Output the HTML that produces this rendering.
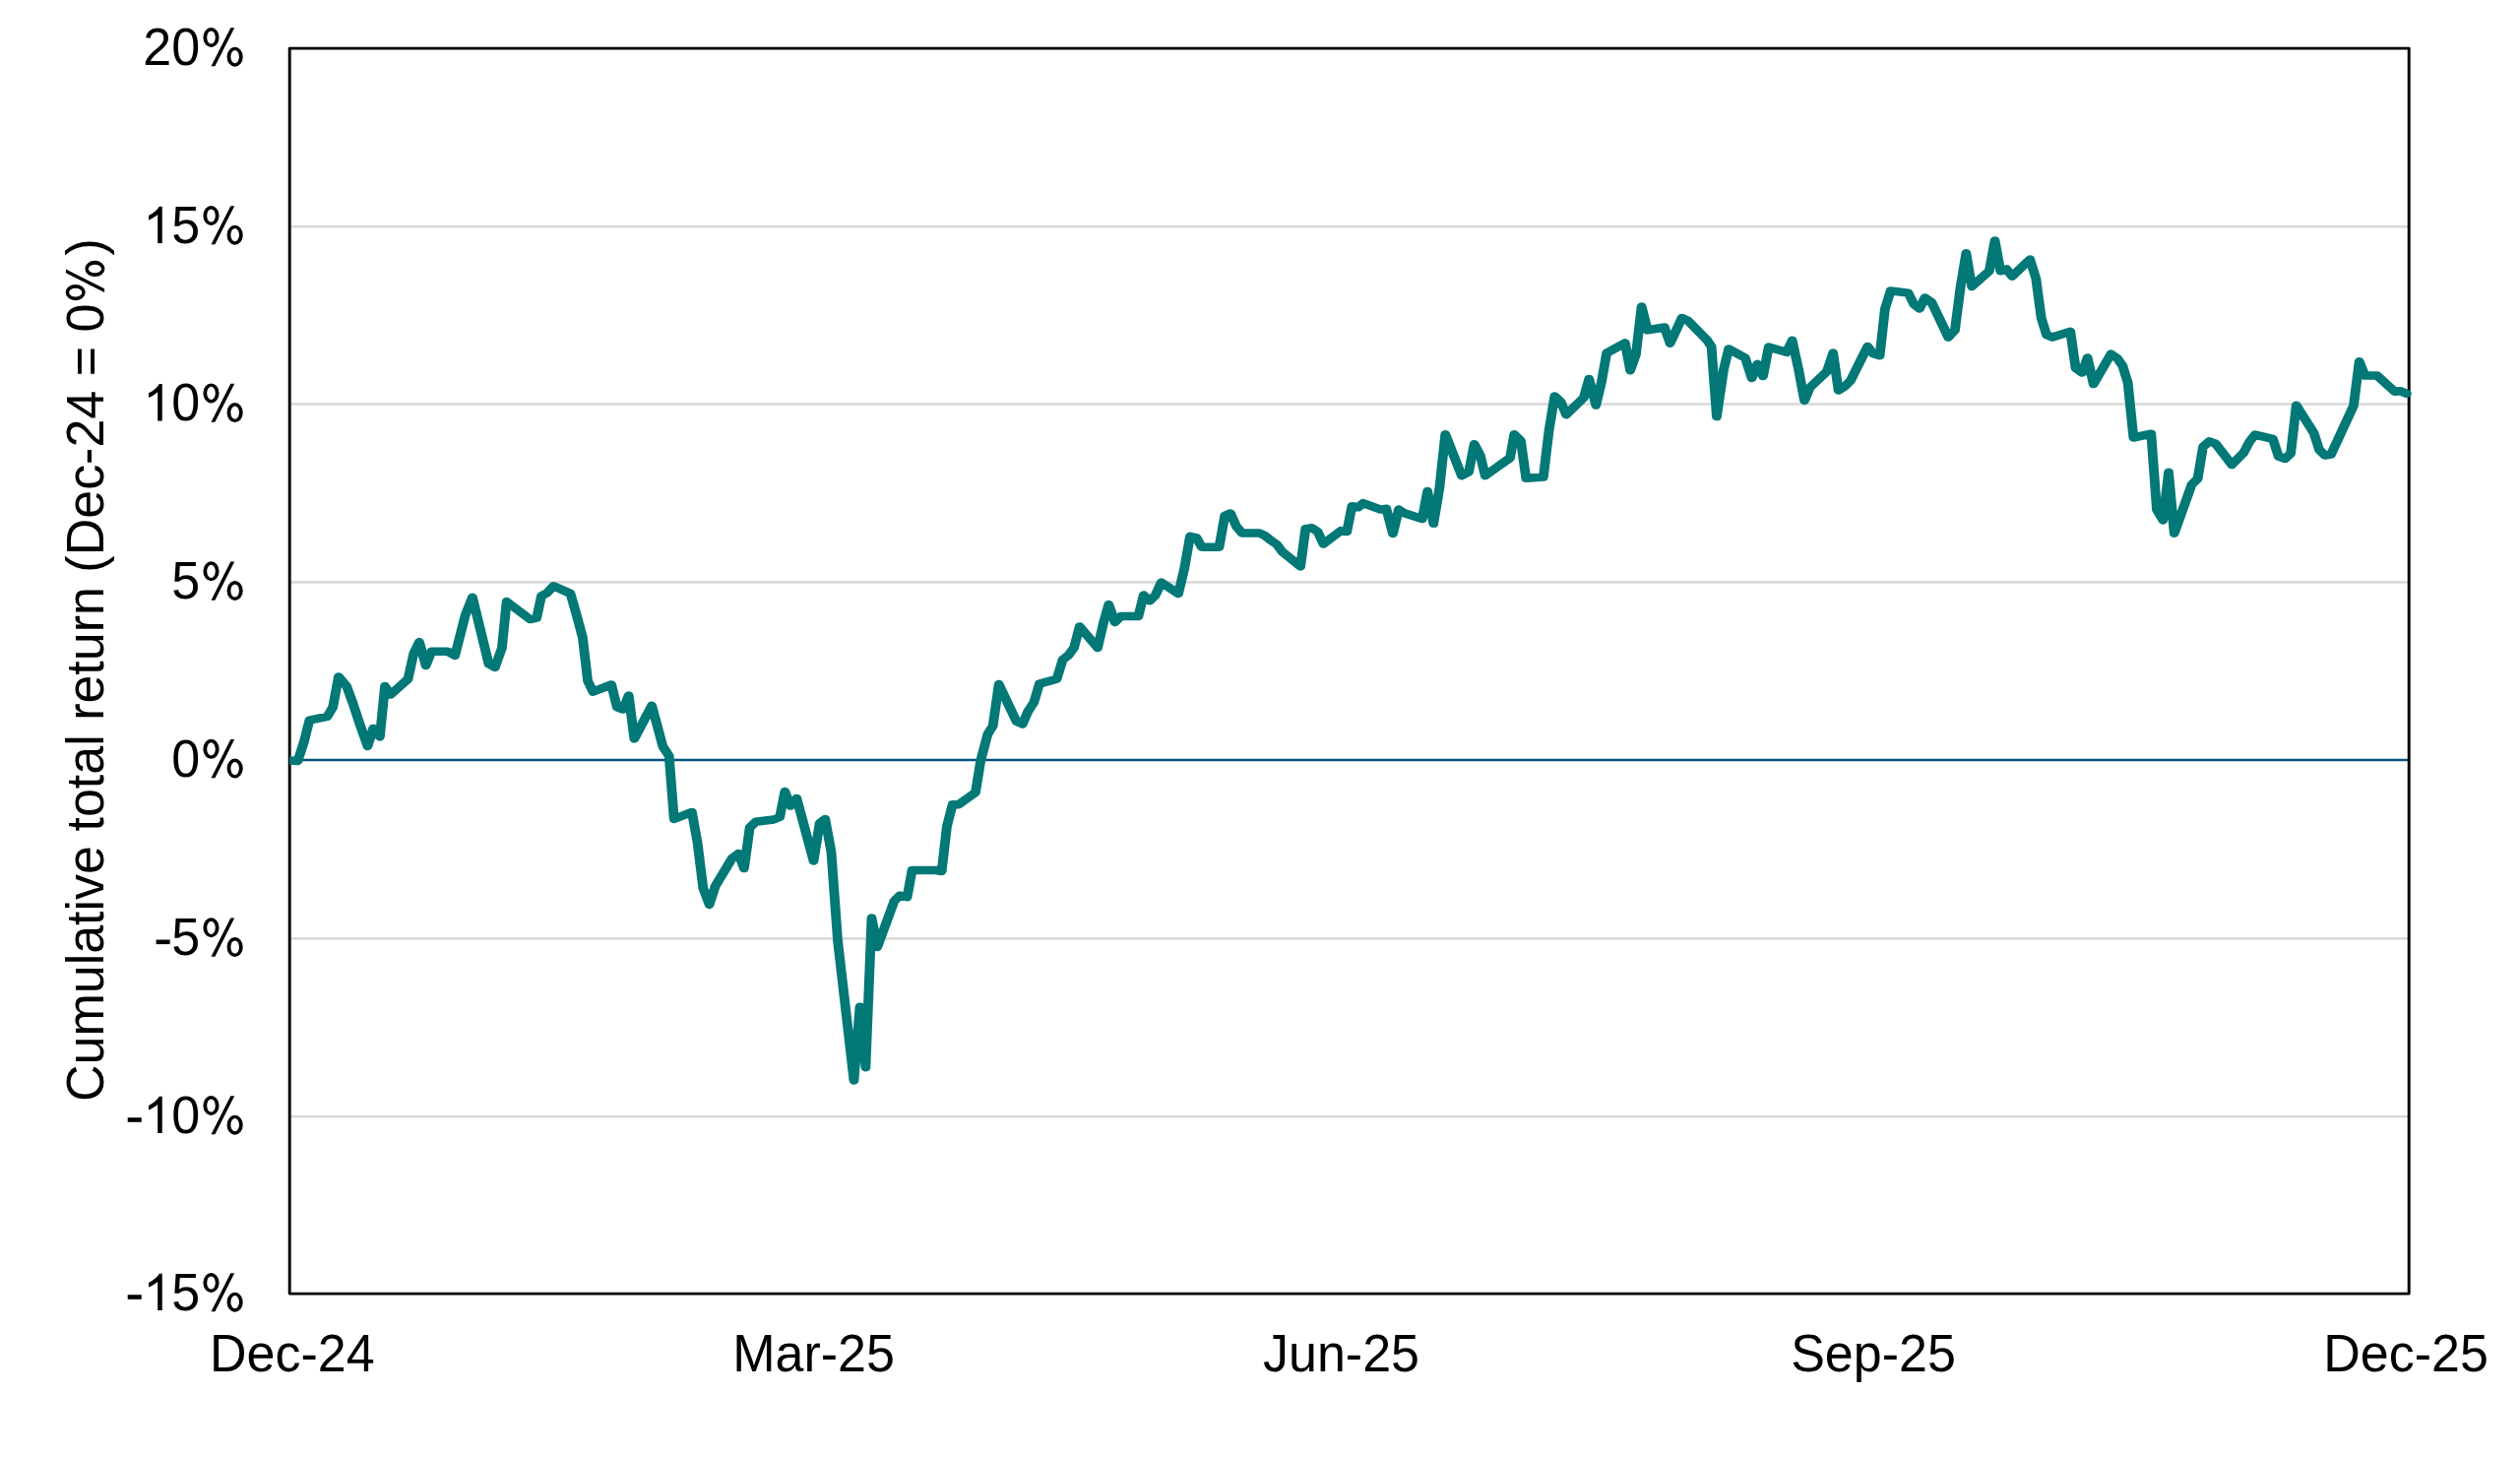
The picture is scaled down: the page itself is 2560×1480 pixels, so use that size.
<!DOCTYPE html>
<html><head><meta charset="utf-8"><title>chart</title><style>html,body{margin:0;padding:0;background:#fff}svg{display:block}text{font-family:"Liberation Sans",sans-serif;fill:#000}</style></head><body>
<svg width="2560" height="1480" viewBox="0 0 2560 1480">
<rect width="2560" height="1480" fill="#fff"/>
<line x1="294.2" x2="2447.2" y1="230.10" y2="230.10" stroke="#d9d9d9" stroke-width="2.6"/>
<line x1="294.2" x2="2447.2" y1="410.50" y2="410.50" stroke="#d9d9d9" stroke-width="2.6"/>
<line x1="294.2" x2="2447.2" y1="591.40" y2="591.40" stroke="#d9d9d9" stroke-width="2.6"/>
<line x1="294.2" x2="2447.2" y1="953.40" y2="953.40" stroke="#d9d9d9" stroke-width="2.6"/>
<line x1="294.2" x2="2447.2" y1="1134.10" y2="1134.10" stroke="#d9d9d9" stroke-width="2.6"/>
<line x1="294.2" x2="2447.2" y1="771.95" y2="771.95" stroke="#07547c" stroke-width="2.5"/>
<defs><clipPath id="cp"><rect x="293.9" y="0" width="2300" height="1480"/></clipPath></defs>
<g transform="scale(1.155,1)"><rect x="254.72" y="49.1" width="1864.07" height="1265.0" fill="none" stroke="#000" stroke-width="2.55" stroke-linejoin="round"/></g>
<g clip-path="url(#cp)"><g transform="scale(1.155,1)"><polyline fill="none" stroke="#027877" stroke-width="8.5" stroke-linejoin="round" stroke-linecap="round" points="249.03,772.3 261.91,772.9 267.37,753.6 272.16,731.7 287.85,727.9 292.80,718.3 297.76,687.4 304.86,697.0 310.15,713.6 316.75,736.5 323.36,758.0 328.32,739.9 334.10,748.5 338.56,697.0 343.51,705.6 358.87,689.7 363.83,664.0 368.78,652.1 374.56,676.0 379.52,661.7 393.56,661.7 400.17,665.9 409.25,624.9 415.53,606.7 429.90,674.5 435.35,677.9 441.46,658.3 445.59,611.1 466.24,629.1 472.02,627.7 476.15,605.4 481.10,602.4 486.88,595.3 501.75,602.9 506.71,623.0 512.49,647.8 516.95,691.6 521.57,702.7 537.76,695.5 542.71,718.3 548.00,720.6 552.95,706.5 557.91,750.4 573.27,716.8 578.56,739.3 583.02,758.4 588.47,767.9 592.87,832.0 608.57,824.9 613.52,856.4 618.48,902.2 623.93,918.9 629.21,899.9 644.08,871.6 649.53,866.9 654.48,882.1 659.44,840.7 664.73,834.8 680.42,832.5 685.87,830.0 690.33,803.9 695.28,818.6 700.73,811.0 715.60,874.5 720.89,836.3 725.84,832.1 731.13,865.5 736.83,955.5 751.04,1097.4 756.29,1022.7 761.40,1084.2 766.66,932.5 771.63,962.0 786.54,915.3 791.51,909.5 797.91,911.2 802.17,884.1 823.29,884.0 828.25,885.0 832.87,839.2 837.83,817.3 843.11,817.3 857.98,804.9 862.52,772.8 868.64,746.1 873.26,737.5 878.55,695.0 893.91,732.7 899.36,735.6 904.31,722.3 909.27,713.7 914.22,694.6 929.42,689.8 934.71,670.2 939.66,665.6 944.62,658.0 949.57,636.4 965.43,658.0 970.38,633.5 975.17,614.1 980.63,632.0 985.91,625.9 1001.27,625.9 1005.90,604.5 1011.18,610.3 1016.14,604.9 1021.42,591.6 1036.45,603.0 1041.74,577.3 1046.70,544.8 1052.48,546.4 1056.94,555.7 1072.30,555.7 1077.25,523.8 1082.21,521.4 1087.49,534.7 1092.45,541.6 1107.81,541.6 1112.77,544.3 1118.05,549.2 1123.01,553.0 1127.96,560.7 1143.82,575.4 1148.28,537.2 1153.73,536.2 1159.01,540.1 1163.97,552.5 1179.33,539.1 1184.62,540.1 1189.08,514.3 1194.53,515.3 1198.99,511.1 1214.35,517.6 1219.30,516.8 1225.09,542.0 1230.26,517.5 1235.22,521.3 1250.91,527.1 1255.53,499.0 1260.82,531.8 1266.11,495.6 1271.23,441.2 1285.60,483.2 1291.87,479.4 1296.66,451.1 1302.11,463.1 1306.24,483.2 1323.59,468.9 1328.21,465.1 1331.85,441.2 1337.63,447.9 1342.25,485.7 1357.45,484.5 1362.40,437.4 1367.36,402.5 1372.81,408.2 1377.60,421.2 1392.96,404.0 1397.59,384.9 1403.70,411.6 1408.65,387.8 1413.11,358.6 1429.30,348.3 1433.92,376.3 1438.88,360.1 1443.84,311.5 1449.12,335.3 1463.99,332.5 1468.94,348.7 1474.23,335.7 1479.35,322.9 1484.63,325.8 1501.65,345.8 1505.28,352.1 1509.91,423.1 1516.02,375.4 1520.48,354.4 1535.01,363.6 1540.79,384.0 1545.75,369.7 1550.70,382.1 1555.66,352.5 1571.35,357.8 1576.31,345.8 1582.09,376.3 1587.04,406.9 1592.00,393.5 1606.86,377.3 1612.31,358.6 1617.00,396.5 1622.78,392.3 1627.73,386.5 1642.60,352.0 1647.55,359.3 1653.34,361.2 1657.96,313.5 1662.92,295.4 1678.44,297.6 1683.40,309.1 1688.35,313.5 1692.98,302.4 1699.09,307.4 1713.62,342.5 1719.41,335.4 1724.36,291.5 1729.32,257.2 1734.27,291.0 1749.63,275.3 1754.59,244.4 1759.54,275.3 1764.83,273.4 1769.78,280.7 1785.48,263.5 1790.76,283.0 1795.39,323.0 1800.01,340.2 1805.30,342.5 1820.99,336.8 1825.64,373.9 1831.42,378.6 1836.05,363.4 1841.33,390.1 1856.70,359.6 1862.31,364.0 1866.94,371.6 1871.56,388.8 1876.52,444.5 1892.04,440.7 1897.00,517.9 1902.45,528.4 1907.40,479.8 1912.36,541.8 1927.72,492.2 1933.01,486.1 1937.63,454.0 1943.25,448.3 1948.70,450.6 1963.07,472.1 1973.47,459.7 1978.43,448.9 1983.38,441.6 1999.08,445.8 2004.03,463.5 2009.81,466.0 2014.77,460.7 2019.72,411.7 2035.08,439.7 2039.87,456.9 2045.00,462.6 2050.28,461.6 2070.10,412.0 2075.06,367.2 2080.01,381.5 2090.75,381.5 2106.11,397.7 2111.07,397.2 2116.76,399.8"/></g></g>
<text transform="translate(203.20,66.00) scale(1,1.030)" font-size="52.00" text-anchor="end">20</text>
<path fill-rule="evenodd" d="M230.55,57.70 a8.1,10 0 1,0 16.2,0 a8.1,10 0 1,0 -16.2,0 Z M234.35,57.70 a4.3,6.6 0 1,1 8.6,0 a4.3,6.6 0 1,1 -8.6,0 Z M206.40,38.00 a8.1,10 0 1,0 16.2,0 a8.1,10 0 1,0 -16.2,0 Z M210.20,38.00 a4.3,6.6 0 1,1 8.6,0 a4.3,6.6 0 1,1 -8.6,0 Z M234.30,28.25 L238.20,28.25 L218.40,67.37 L214.50,67.37 Z"/>
<text transform="translate(203.20,247.00) scale(1,1.030)" font-size="52.00" text-anchor="end">5</text>
<path transform="translate(145.38,247.00) scale(0.02539,-0.02539)" d="M763,0 L583,0 L583,1147 Q518,1085 412.5,1023 Q307,961 223,930 L223,1104 Q374,1175 487,1276 Q600,1377 647,1472 L763,1472 Z"/>
<path fill-rule="evenodd" d="M230.55,238.70 a8.1,10 0 1,0 16.2,0 a8.1,10 0 1,0 -16.2,0 Z M234.35,238.70 a4.3,6.6 0 1,1 8.6,0 a4.3,6.6 0 1,1 -8.6,0 Z M206.40,219.00 a8.1,10 0 1,0 16.2,0 a8.1,10 0 1,0 -16.2,0 Z M210.20,219.00 a4.3,6.6 0 1,1 8.6,0 a4.3,6.6 0 1,1 -8.6,0 Z M234.30,209.25 L238.20,209.25 L218.40,248.37 L214.50,248.37 Z"/>
<text transform="translate(203.20,427.40) scale(1,1.030)" font-size="52.00" text-anchor="end">0</text>
<path transform="translate(145.38,427.40) scale(0.02539,-0.02539)" d="M763,0 L583,0 L583,1147 Q518,1085 412.5,1023 Q307,961 223,930 L223,1104 Q374,1175 487,1276 Q600,1377 647,1472 L763,1472 Z"/>
<path fill-rule="evenodd" d="M230.55,419.10 a8.1,10 0 1,0 16.2,0 a8.1,10 0 1,0 -16.2,0 Z M234.35,419.10 a4.3,6.6 0 1,1 8.6,0 a4.3,6.6 0 1,1 -8.6,0 Z M206.40,399.40 a8.1,10 0 1,0 16.2,0 a8.1,10 0 1,0 -16.2,0 Z M210.20,399.40 a4.3,6.6 0 1,1 8.6,0 a4.3,6.6 0 1,1 -8.6,0 Z M234.30,389.65 L238.20,389.65 L218.40,428.77 L214.50,428.77 Z"/>
<text transform="translate(203.20,608.30) scale(1,1.030)" font-size="52.00" text-anchor="end">5</text>
<path fill-rule="evenodd" d="M230.55,600.00 a8.1,10 0 1,0 16.2,0 a8.1,10 0 1,0 -16.2,0 Z M234.35,600.00 a4.3,6.6 0 1,1 8.6,0 a4.3,6.6 0 1,1 -8.6,0 Z M206.40,580.30 a8.1,10 0 1,0 16.2,0 a8.1,10 0 1,0 -16.2,0 Z M210.20,580.30 a4.3,6.6 0 1,1 8.6,0 a4.3,6.6 0 1,1 -8.6,0 Z M234.30,570.55 L238.20,570.55 L218.40,609.67 L214.50,609.67 Z"/>
<text transform="translate(203.20,788.85) scale(1,1.030)" font-size="52.00" text-anchor="end">0</text>
<path fill-rule="evenodd" d="M230.55,780.55 a8.1,10 0 1,0 16.2,0 a8.1,10 0 1,0 -16.2,0 Z M234.35,780.55 a4.3,6.6 0 1,1 8.6,0 a4.3,6.6 0 1,1 -8.6,0 Z M206.40,760.85 a8.1,10 0 1,0 16.2,0 a8.1,10 0 1,0 -16.2,0 Z M210.20,760.85 a4.3,6.6 0 1,1 8.6,0 a4.3,6.6 0 1,1 -8.6,0 Z M234.30,751.10 L238.20,751.10 L218.40,790.22 L214.50,790.22 Z"/>
<text transform="translate(203.20,970.30) scale(1,1.030)" font-size="52.00" text-anchor="end">5</text>
<rect x="158.62" y="954.55" width="14.04" height="4.55"/>
<path fill-rule="evenodd" d="M230.55,962.00 a8.1,10 0 1,0 16.2,0 a8.1,10 0 1,0 -16.2,0 Z M234.35,962.00 a4.3,6.6 0 1,1 8.6,0 a4.3,6.6 0 1,1 -8.6,0 Z M206.40,942.30 a8.1,10 0 1,0 16.2,0 a8.1,10 0 1,0 -16.2,0 Z M210.20,942.30 a4.3,6.6 0 1,1 8.6,0 a4.3,6.6 0 1,1 -8.6,0 Z M234.30,932.55 L238.20,932.55 L218.40,971.67 L214.50,971.67 Z"/>
<text transform="translate(203.20,1151.00) scale(1,1.030)" font-size="52.00" text-anchor="end">0</text>
<path transform="translate(145.38,1151.00) scale(0.02539,-0.02539)" d="M763,0 L583,0 L583,1147 Q518,1085 412.5,1023 Q307,961 223,930 L223,1104 Q374,1175 487,1276 Q600,1377 647,1472 L763,1472 Z"/>
<rect x="129.71" y="1135.25" width="14.04" height="4.55"/>
<path fill-rule="evenodd" d="M230.55,1142.70 a8.1,10 0 1,0 16.2,0 a8.1,10 0 1,0 -16.2,0 Z M234.35,1142.70 a4.3,6.6 0 1,1 8.6,0 a4.3,6.6 0 1,1 -8.6,0 Z M206.40,1123.00 a8.1,10 0 1,0 16.2,0 a8.1,10 0 1,0 -16.2,0 Z M210.20,1123.00 a4.3,6.6 0 1,1 8.6,0 a4.3,6.6 0 1,1 -8.6,0 Z M234.30,1113.25 L238.20,1113.25 L218.40,1152.37 L214.50,1152.37 Z"/>
<text transform="translate(203.20,1331.00) scale(1,1.030)" font-size="52.00" text-anchor="end">5</text>
<path transform="translate(145.38,1331.00) scale(0.02539,-0.02539)" d="M763,0 L583,0 L583,1147 Q518,1085 412.5,1023 Q307,961 223,930 L223,1104 Q374,1175 487,1276 Q600,1377 647,1472 L763,1472 Z"/>
<rect x="129.71" y="1315.25" width="14.04" height="4.55"/>
<path fill-rule="evenodd" d="M230.55,1322.70 a8.1,10 0 1,0 16.2,0 a8.1,10 0 1,0 -16.2,0 Z M234.35,1322.70 a4.3,6.6 0 1,1 8.6,0 a4.3,6.6 0 1,1 -8.6,0 Z M206.40,1303.00 a8.1,10 0 1,0 16.2,0 a8.1,10 0 1,0 -16.2,0 Z M210.20,1303.00 a4.3,6.6 0 1,1 8.6,0 a4.3,6.6 0 1,1 -8.6,0 Z M234.30,1293.25 L238.20,1293.25 L218.40,1332.37 L214.50,1332.37 Z"/>
<text transform="translate(296.80,1392.90) scale(1,1.030)" font-size="52.00" text-anchor="middle">Dec-24</text>
<text transform="translate(826.50,1392.90) scale(1,1.030)" font-size="52.00" text-anchor="middle">Mar-25</text>
<text transform="translate(1362.50,1392.90) scale(1,1.030)" font-size="52.00" text-anchor="middle">Jun-25</text>
<text transform="translate(1903.00,1392.90) scale(1,1.030)" font-size="52.00" text-anchor="middle">Sep-25</text>
<text transform="translate(2444.00,1392.90) scale(1,1.030)" font-size="52.00" text-anchor="middle">Dec-25</text>
<g transform="translate(104.70,681.30) rotate(-90)">
<text transform="translate(372.7,0) scale(1,1.030)" font-size="52.00" text-anchor="end">Cumulative total return (Dec-24 = 0</text>
<path fill-rule="evenodd" d="M400.25,-8.30 a8.1,10 0 1,0 16.2,0 a8.1,10 0 1,0 -16.2,0 Z M404.05,-8.30 a4.3,6.6 0 1,1 8.6,0 a4.3,6.6 0 1,1 -8.6,0 Z M376.10,-28.00 a8.1,10 0 1,0 16.2,0 a8.1,10 0 1,0 -16.2,0 Z M379.90,-28.00 a4.3,6.6 0 1,1 8.6,0 a4.3,6.6 0 1,1 -8.6,0 Z M404.00,-37.75 L407.90,-37.75 L388.10,1.37 L384.20,1.37 Z"/>
<text transform="translate(421.8,0) scale(1,1.030)" font-size="52.00" text-anchor="start">)</text>
</g>
</svg></body></html>
